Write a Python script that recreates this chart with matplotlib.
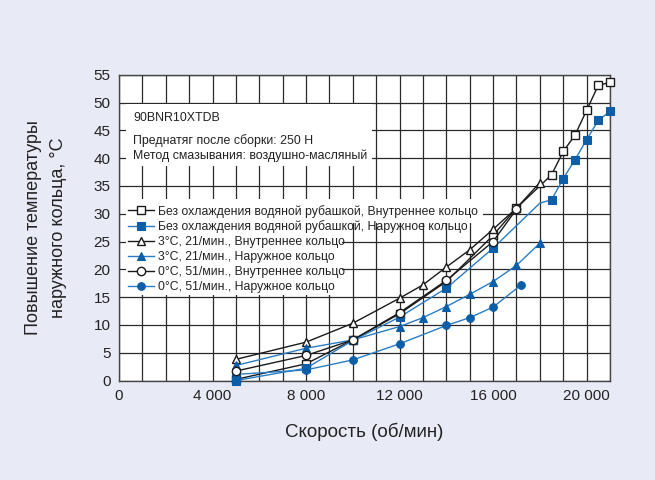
import matplotlib
matplotlib.use("Agg")
import matplotlib.pyplot as plt
from matplotlib.ticker import MultipleLocator, FuncFormatter
from matplotlib.patches import Rectangle

plt.rcParams['font.family'] = ['Liberation Sans', 'DejaVu Sans']

# ---- data ----
speed_sq_in = [5000, 8000, 10000, 12000, 14000, 16000, 17000, 18500, 19000, 19500, 20000, 20500, 21000]
temp_sq_in = [0.2, 3.0, 7.3, 12.0, 17.8, 26.1, 31.0, 37.0, 41.2, 44.1, 48.6, 53.1, 53.6]

speed_sq_out = [5000, 8000, 10000, 12000, 14000, 16000, 18000, 18500, 19000, 19500, 20000, 20500, 21000]
temp_sq_out = [0.0, 2.2, 7.2, 11.4, 16.6, 23.8, 31.9, 32.5, 36.3, 39.7, 43.3, 46.8, 48.4]

speed_tri_in = [5000, 8000, 10000, 12000, 13000, 14000, 15000, 16000, 17000, 18000]
temp_tri_in = [3.8, 6.9, 10.3, 14.8, 17.2, 20.4, 23.5, 27.2, 31.0, 35.6]

speed_tri_out = [5000, 8000, 10000, 12000, 13000, 14000, 15000, 16000, 17000, 18000]
temp_tri_out = [2.7, 5.8, 7.3, 9.7, 11.3, 13.3, 15.5, 17.8, 20.7, 24.7]

speed_ci_in = [5000, 8000, 10000, 12000, 14000, 16000, 17000]
temp_ci_in = [1.7, 4.5, 7.3, 12.2, 18.0, 25.0, 30.8]

speed_ci_out = [5000, 8000, 10000, 12000, 14000, 15000, 16000, 17200]
temp_ci_out = [1.1, 1.9, 3.7, 6.6, 9.9, 11.3, 13.2, 17.2]

labels = [
    "Без охлаждения водяной рубашкой, Внутреннее кольцо",
    "Без охлаждения водяной рубашкой, Наружное кольцо",
    "3°C, 21/мин., Внутреннее кольцо",
    "3°C, 21/мин., Наружное кольцо",
    "0°C, 51/мин., Внутреннее кольцо",
    "0°C, 51/мин., Наружное кольцо",
]
notes = ["90BNR10XTDB",
         "Преднатяг после сборки: 250 Н",
         "Метод смазывания: воздушно-масляный"]
x_ticks = [0, 4000, 8000, 12000, 16000, 20000]
y_ticks = [0, 5, 10, 15, 20, 25, 30, 35, 40, 45, 50, 55]

# ---- style ----
BG = '#E8EBF6'
BLACK = '#1a1a1a'
BLUE_L = '#2a7dc4'
BLUE_M = '#0c5ea8'

fig = plt.figure(figsize=(6.55, 4.8), dpi=100, facecolor=BG)
ax = fig.add_axes([119/655, 1-380.5/480, 491/655, 305.8/480])
ax.set_facecolor('white')

ax.set_xlim(0, 21000)
ax.set_ylim(0, 55)
ax.set_xticks(x_ticks)
ax.xaxis.set_minor_locator(MultipleLocator(1000))
ax.set_yticks(y_ticks)
ax.xaxis.set_major_formatter(FuncFormatter(lambda v, p: f"{int(v):,}".replace(",", " ")))
ax.grid(True, which='both', color='#2a2a2a', linewidth=0.9)
ax.set_axisbelow(True)
ax.tick_params(axis='both', which='both', length=0, labelsize=11, pad=6, colors='#222222')
for s in ax.spines.values():
    s.set_color('#444444')
    s.set_linewidth(1.0)

# white panels behind text and legend
def wbox(x0, x1, y0, y1):
    ax.add_patch(Rectangle((x0, y0), x1 - x0, y1 - y0, facecolor='white',
                           edgecolor='none', zorder=1))
wbox(300, 10800, 38.5, 49.7)
wbox(300, 15550, 28.3, 32.7)
wbox(300, 9550, 15.4, 28.3)

open_mk = dict(markersize=6, markeredgewidth=1.0)
fill_mk = dict(markersize=5.5, markeredgewidth=0.8)
ax.plot(speed_sq_in, temp_sq_in, '-', color=BLACK, lw=1.0, marker='s',
        mfc='white', mec=BLACK, label=labels[0], zorder=3, clip_on=False, **open_mk)
ax.plot(speed_sq_out, temp_sq_out, '-', color=BLUE_L, lw=1.0, marker='s',
        mfc=BLUE_M, mec=BLUE_M, label=labels[1], zorder=3, clip_on=False,
        markevery=[i for i in range(len(speed_sq_out)) if i != 6], **fill_mk)
ax.plot(speed_tri_in, temp_tri_in, '-', color=BLACK, lw=1.0, marker='^',
        mfc='white', mec=BLACK, label=labels[2], zorder=3, clip_on=False, **open_mk)
ax.plot(speed_tri_out, temp_tri_out, '-', color=BLUE_L, lw=1.0, marker='^',
        mfc=BLUE_M, mec=BLUE_M, label=labels[3], zorder=3, clip_on=False, **fill_mk)
ax.plot(speed_ci_in, temp_ci_in, '-', color=BLACK, lw=1.0, marker='o',
        mfc='white', mec=BLACK, label=labels[4], zorder=4, clip_on=False, **open_mk)
ax.plot(speed_ci_out, temp_ci_out, '-', color=BLUE_L, lw=1.0, marker='o',
        mfc=BLUE_M, mec=BLUE_M, label=labels[5], zorder=3, clip_on=False, **fill_mk)

leg = ax.legend(loc='upper left', bbox_to_anchor=(0.018, 0.575), frameon=False,
                fontsize=8.8, handlelength=2.1, handletextpad=0.35,
                labelspacing=0.24, borderpad=0, borderaxespad=0)
leg.set_zorder(5)
for t in leg.get_texts():
    t.set_color('#222222')

for txt, yy in zip(notes, [0.858, 0.786, 0.734]):
    ax.text(0.0285, yy, txt, transform=ax.transAxes, fontsize=8.9,
            va='center', ha='left', color='#222222', zorder=5)

ax.set_xlabel("Скорость (об/мин)", fontsize=13.5, labelpad=14, color='#222222')
fig.text(46/655, 1-228/480, "Повышение температуры\nнаружного кольца, °C",
         rotation=90, ha='center', va='center', fontsize=13,
         linespacing=1.55, multialignment='center', color='#222222')

fig.savefig('out.png', dpi=100, facecolor=BG)
